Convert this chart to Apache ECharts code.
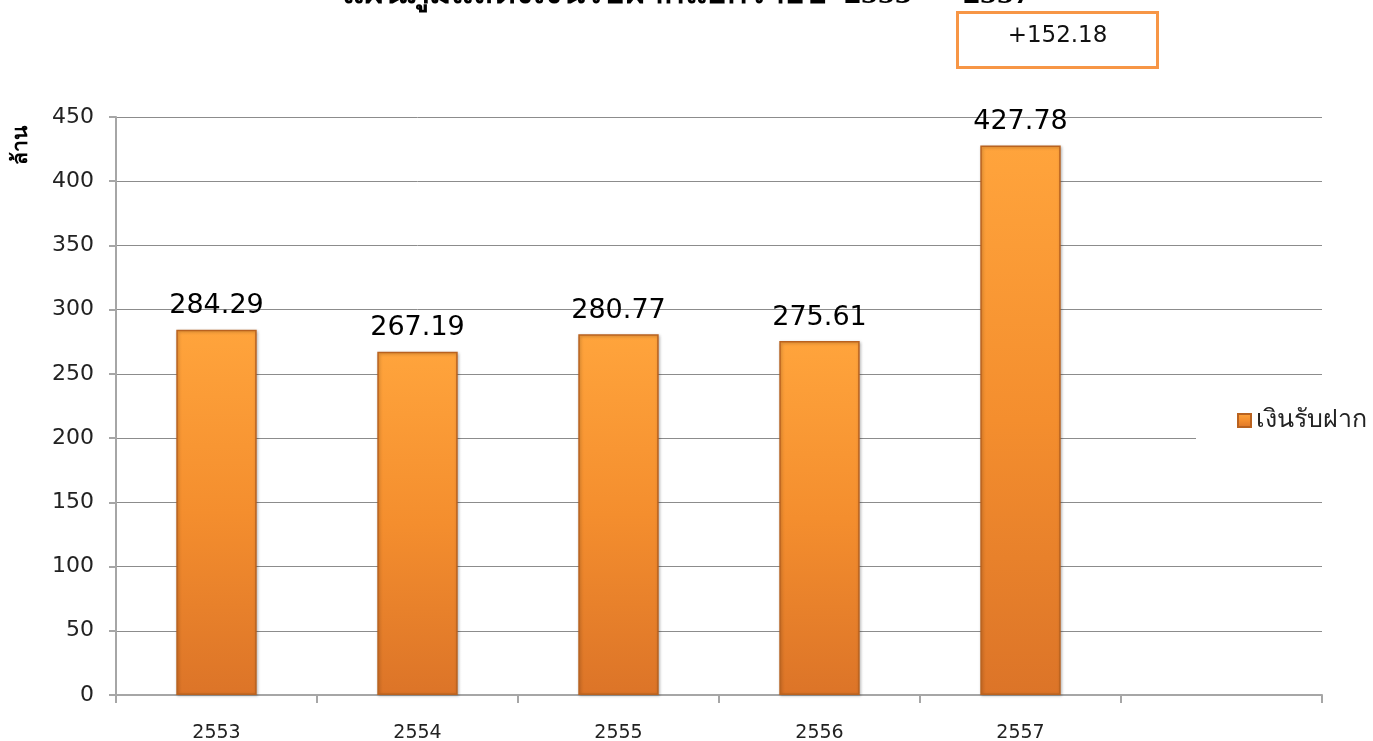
<!DOCTYPE html>
<html>
<head>
<meta charset="utf-8">
<script src="https://cdn.jsdelivr.net/npm/echarts@6/dist/echarts.min.js"></script>
<style>
  html, body { margin: 0; padding: 0; background: #fff; }
  #chart { width: 1373px; height: 741px; }
</style>
</head>
<body>
<div id="chart"></div>
<script>
var years = ['2553', '2554', '2555', '2556', '2557', ''];
var deposits = [284.29, 267.19, 280.77, 275.61, 427.78, '-'];
var yTicks = { min: 0, max: 450, step: 50 };
var seriesName = 'เงินรับฝาก';
var titleText = 'แผนภูมิแสดงเงินรับฝากแยกรายปี  2553  –  2557';
var changeText = '+152.18';

var chart = echarts.init(document.getElementById('chart'));

var barColor = new echarts.graphic.LinearGradient(0, 0, 0, 1, [
    { offset: 0, color: '#ffa43c' },
    { offset: 0.5, color: '#f48e2e' },
    { offset: 1, color: '#dc7428' }
]);

var option = {
    backgroundColor: '#fff',
    animation: false,
    grid: { left: 116, right: 51, top: 117, bottom: 46, outerBoundsMode: 'none' },
    legend: {
        data: [{ name: seriesName, icon: 'rect' }],
        left: 1196,
        top: 396,
        padding: [12, 10, 12, 41],
        backgroundColor: '#fff',
        itemWidth: 13,
        itemHeight: 13,
        itemGap: 8,
        textStyle: { fontFamily: 'sans-serif', fontSize: 25, color: '#222' }
    },
    xAxis: {
        type: 'category',
        data: years,
        boundaryGap: true,
        axisLine: { lineStyle: { color: '#a6a6a6', width: 2 } },
        axisTick: { show: true, length: 8, lineStyle: { color: '#a6a6a6', width: 2 } },
        axisLabel: { margin: 29, fontFamily: 'DejaVu Sans', fontSize: 19, color: '#222' }
    },
    yAxis: {
        type: 'value',
        min: yTicks.min,
        max: yTicks.max,
        interval: yTicks.step,
        axisLine: { show: true, lineStyle: { color: '#a6a6a6', width: 2 } },
        axisTick: { show: true, length: 7, lineStyle: { color: '#a6a6a6', width: 2 } },
        axisLabel: { margin: 22, fontFamily: 'DejaVu Sans', fontSize: 22, color: '#222' },
        splitLine: { lineStyle: { color: '#8c8c8c', width: 1 } }
    },
    series: [{
        name: seriesName,
        type: 'bar',
        data: deposits,
        barWidth: '40%',
        itemStyle: {
            color: barColor,
            borderColor: '#b9621f',
            borderWidth: 1.5,
            shadowColor: 'rgba(0,0,0,0.25)',
            shadowBlur: 3,
            shadowOffsetX: 1,
            shadowOffsetY: 1
        },
        label: {
            show: true,
            position: 'top',
            distance: 10,
            fontFamily: 'DejaVu Sans',
            fontSize: 27,
            color: '#000',
            formatter: function (p) { return p.value.toFixed(2); }
        }
    }],
    graphic: [
        {
            type: 'text',
            left: 'center',
            top: -23,
            style: {
                text: titleText,
                fontFamily: 'serif',
                fontWeight: 'bold',
                fontSize: 34,
                fill: '#000'
            }
        },
        {
            type: 'text',
            x: 21,
            y: 145,
            rotation: Math.PI / 2,
            style: {
                text: 'ล้าน',
                fontFamily: 'sans-serif',
                fontWeight: 'bold',
                fontSize: 21,
                fill: '#000',
                align: 'center',
                verticalAlign: 'middle'
            }
        },
        {
            type: 'group',
            left: 956,
            top: 11,
            children: [
                {
                    type: 'rect',
                    shape: { x: 0, y: 0, width: 200, height: 55 },
                    style: { fill: '#fff', stroke: '#f79646', lineWidth: 3 }
                },
                {
                    type: 'text',
                    x: 100,
                    y: 24,
                    style: {
                        text: changeText,
                        fontFamily: 'DejaVu Sans',
                        fontSize: 23,
                        fill: '#111',
                        align: 'center',
                        verticalAlign: 'middle'
                    }
                }
            ]
        }
    ]
};

chart.setOption(option);
window.addEventListener('resize', function () { chart.resize(); });
</script>
</body>
</html>
